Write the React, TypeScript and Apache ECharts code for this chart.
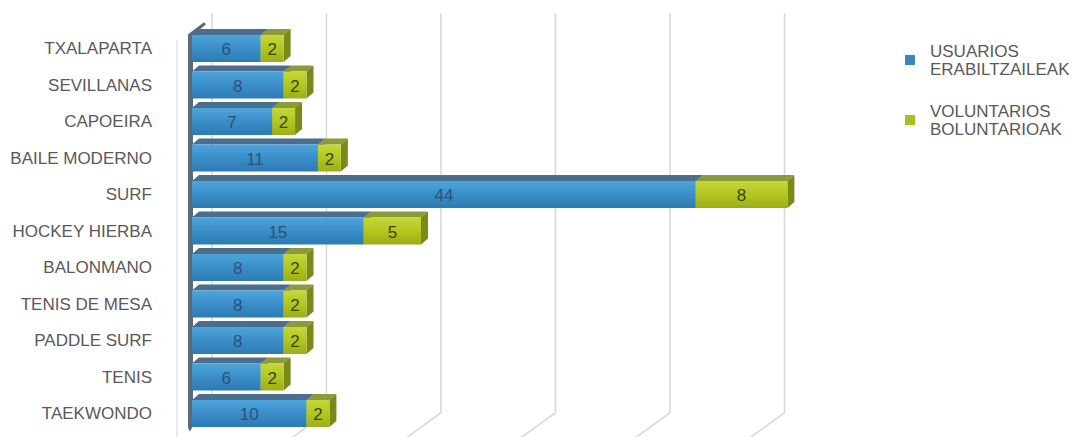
import React, { useEffect, useRef } from "react";
import * as echarts from "echarts";

const categories = [
  "TXALAPARTA",
  "SEVILLANAS",
  "CAPOEIRA",
  "BAILE MODERNO",
  "SURF",
  "HOCKEY HIERBA",
  "BALONMANO",
  "TENIS DE MESA",
  "PADDLE SURF",
  "TENIS",
  "TAEKWONDO",
];
const usuarios = [6, 8, 7, 11, 44, 15, 8, 8, 8, 6, 10];
const voluntarios = [2, 2, 2, 2, 8, 5, 2, 2, 2, 2, 2];
const gridTicks = [0, 10, 20, 30, 40, 50];
const seriesNames = ["USUARIOS\nERABILTZAILEAK", "VOLUNTARIOS\nBOLUNTARIOAK"];

const FONT = "'Liberation Sans', Arial, sans-serif";
const DX = 7;
const DY = 6;
const WALL_DX = 20;
const WALL_DY = 17;

function barRenderer(colors: {
  front: any;
  top: string;
  side: string;
  label: string;
}) {
  return (params: any, api: any) => {
    const cat = api.value(0);
    const s = api.value(1);
    const e = api.value(2);
    const v = api.value(3);
    const p0 = api.coord([s, cat]);
    const p1 = api.coord([e, cat]);
    const bh = api.size([0, 1])[1] * 0.74;
    const yT = p0[1] - bh / 2;
    const yB = p0[1] + bh / 2;
    const x0 = p0[0];
    const x1 = p1[0];
    return {
      type: "group",
      children: [
        {
          type: "polygon",
          shape: {
            points: [
              [x0, yT],
              [x0 + DX, yT - DY],
              [x1 + DX, yT - DY],
              [x1, yT],
            ],
          },
          style: { fill: colors.top },
        },
        {
          type: "polygon",
          shape: {
            points: [
              [x1, yT],
              [x1 + DX, yT - DY],
              [x1 + DX, yB - DY],
              [x1, yB],
            ],
          },
          style: { fill: colors.side },
        },
        {
          type: "rect",
          shape: { x: x0, y: yT, width: x1 - x0, height: bh },
          style: { fill: colors.front },
        },
        {
          type: "text",
          style: {
            text: String(v),
            x: (x0 + x1) / 2,
            y: p0[1] + 1,
            textAlign: "center",
            textVerticalAlign: "middle",
            fill: colors.label,
            font: `17px ${FONT}`,
          },
        },
      ],
    };
  };
}

export default function App() {
  const ref = useRef<HTMLDivElement>(null);
  useEffect(() => {
    if (!ref.current) return;
    const chart = echarts.init(ref.current, undefined, { renderer: "svg" });
    const blueFront = new echarts.graphic.LinearGradient(0, 0, 0, 1, [
      { offset: 0, color: "#4ea5dc" },
      { offset: 0.5, color: "#3a8ec8" },
      { offset: 1, color: "#2e7ab3" },
    ]);
    const greenFront = new echarts.graphic.LinearGradient(0, 0, 0, 1, [
      { offset: 0, color: "#c6d738" },
      { offset: 0.5, color: "#b3c621" },
      { offset: 1, color: "#9bae16" },
    ]);
    const option: any = {
      animation: false,
      backgroundColor: "#ffffff",
      grid: { left: 192, right: 311.5, top: 30.25, bottom: 5.25 },
      xAxis: { type: "value", min: 0, max: 50, show: false },
      yAxis: {
        type: "category",
        data: categories,
        inverse: true,
        axisLine: { show: false },
        axisTick: { show: false },
        splitLine: { show: false },
        axisLabel: {
          margin: 40,
          fontSize: 17,
          color: "#595959",
          fontFamily: FONT,
          padding: [3, 0, 0, 0],
        },
      },
      legend: {
        data: seriesNames,
        orient: "vertical",
        left: 905,
        top: 42,
        padding: 0,
        itemGap: 24,
        icon: "rect",
        itemWidth: 10,
        itemHeight: 10,
        selectedMode: false,
        textStyle: {
          fontSize: 17,
          color: "#595959",
          fontFamily: FONT,
          lineHeight: 18,
          padding: [0, 0, 0, 10],
        },
      },
      series: [
        {
          type: "custom",
          z: 1,
          silent: true,
          data: gridTicks.map((t) => [t]),
          encode: { x: 0 },
          renderItem: (params: any, api: any) => {
            const cs = params.coordSys;
            const t = api.value(0);
            const x = api.coord([t, 0])[0] + WALL_DX;
            const yTop = cs.y - WALL_DY;
            const yBot = cs.y + cs.height - WALL_DY - 2;
            const children: any[] = [
              {
                type: "line",
                shape: { x1: x, y1: yTop, x2: x, y2: yBot },
                style: { stroke: "#d9d9d9", lineWidth: 1.6 },
              },
            ];
            if (t > 0) {
              children.push({
                type: "line",
                shape: { x1: x, y1: yBot, x2: x - 36, y2: yBot + 26 },
                style: { stroke: "#d9d9d9", lineWidth: 1.6 },
              });
            }
            return { type: "group", children };
          },
        },
        {
          type: "custom",
          z: 2,
          silent: true,
          data: [[0]],
          encode: { x: 0 },
          renderItem: (params: any, api: any) => {
            const cs = params.coordSys;
            const x = api.coord([0, 0])[0];
            const yTop = cs.y + 4;
            const yBot = cs.y + cs.height;
            return {
              type: "group",
              children: [
                {
                  type: "line",
                  shape: { x1: x - 15, y1: yTop + 6, x2: x - 15, y2: yBot + 10 },
                  style: { stroke: "#d4d4d4", lineWidth: 1 },
                },
                {
                  type: "polygon",
                  shape: {
                    points: [
                      [x - 4, yTop],
                      [x + 12, yTop - 12],
                      [x + 14, yTop - 10],
                      [x + 1, yTop + 1],
                      [x + 1, yBot - 6],
                      [x - 2, yBot],
                      [x - 4, yBot - 4],
                    ],
                  },
                  style: { fill: "#5e6a75" },
                },
              ],
            };
          },
        },
        {
          type: "custom",
          name: seriesNames[0],
          z: 3,
          itemStyle: { color: "#3a86bd" },
          data: usuarios.map((v, i) => [i, 0, v, v]),
          encode: { y: 0, x: [1, 2] },
          renderItem: barRenderer({
            front: blueFront,
            top: "#4b6e8d",
            side: "#2d6390",
            label: "#2d5178",
          }),
        },
        {
          type: "custom",
          name: seriesNames[1],
          z: 4,
          itemStyle: { color: "#a8be26" },
          data: voluntarios.map((v, i) => [i, usuarios[i], usuarios[i] + v, v]),
          encode: { y: 0, x: [1, 2] },
          renderItem: barRenderer({
            front: greenFront,
            top: "#8c9b3a",
            side: "#7a8919",
            label: "#404210",
          }),
        },
      ],
    };
    chart.setOption(option);
    return () => chart.dispose();
  }, []);
  return (
    <div
      ref={ref}
      style={{
        position: "fixed",
        left: 0,
        top: 0,
        width: 1076,
        height: 437,
        background: "#fff",
      }}
    />
  );
}
